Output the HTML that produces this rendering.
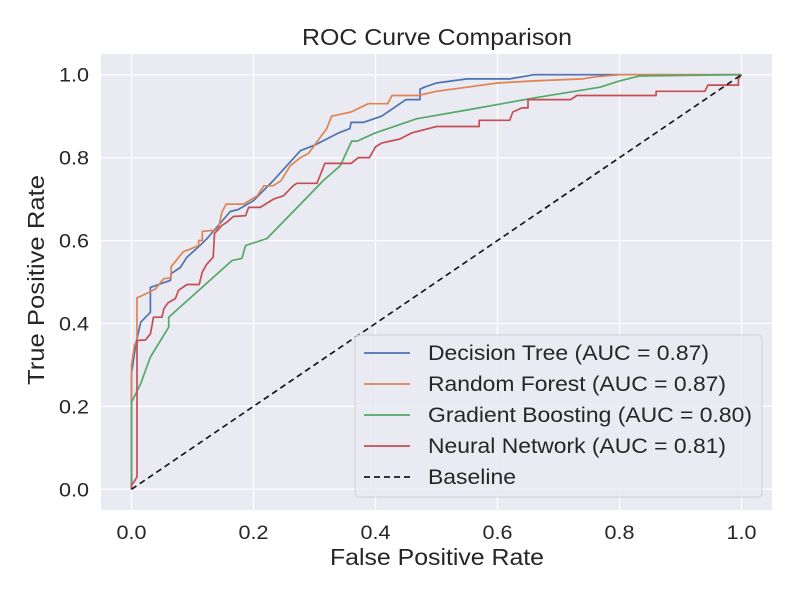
<!DOCTYPE html>
<html><head><meta charset="utf-8"><style>
body{margin:0;background:#fff;}
svg text{font-family:"Liberation Sans","DejaVu Sans",sans-serif;fill:#262626;}
</style></head><body>
<svg id="chart" width="800" height="600" xmlns="http://www.w3.org/2000/svg"></svg>
<script>
const xTicks=[0,0.2,0.4,0.6,0.8,1.0];
const yTicks=[0,0.2,0.4,0.6,0.8,1.0];
const tickLabels=["0.0","0.2","0.4","0.6","0.8","1.0"];
const seriesNames=["Decision Tree (AUC = 0.87)","Random Forest (AUC = 0.87)","Gradient Boosting (AUC = 0.80)","Neural Network (AUC = 0.81)"];
const seriesColors=["#4c72b0","#dd8452","#55a868","#c44e52"];
const dtFpr=[0,0,0.007,0.015,0.031,0.031,0.064,0.065,0.08,0.091,0.11,0.124,0.162,0.175,0.2,0.232,0.277,0.3,0.34,0.358,0.36,0.38,0.41,0.45,0.473,0.473,0.48,0.5,0.55,0.62,0.66,1];
const dtTpr=[0,0.279,0.35,0.403,0.427,0.487,0.504,0.52,0.535,0.56,0.585,0.605,0.67,0.675,0.696,0.744,0.817,0.83,0.86,0.87,0.885,0.885,0.9,0.94,0.94,0.965,0.97,0.98,0.99,0.99,1,1];
const rfFpr=[0,0,0.005,0.009,0.009,0.017,0.039,0.053,0.065,0.065,0.085,0.094,0.11,0.11,0.116,0.116,0.137,0.143,0.148,0.155,0.184,0.206,0.217,0.232,0.245,0.26,0.277,0.29,0.3,0.31,0.32,0.328,0.36,0.388,0.42,0.427,0.47,0.5,0.55,0.6,0.66,0.74,0.76,0.8,1];
const rfTpr=[0,0.3,0.35,0.35,0.462,0.467,0.483,0.508,0.51,0.537,0.573,0.578,0.588,0.6,0.6,0.622,0.625,0.632,0.668,0.688,0.688,0.708,0.732,0.732,0.744,0.78,0.8,0.81,0.83,0.85,0.87,0.9,0.91,0.93,0.93,0.95,0.95,0.96,0.97,0.98,0.985,0.99,0.995,1,1];
const gbFpr=[0,0,0.015,0.031,0.061,0.061,0.165,0.181,0.187,0.222,0.277,0.314,0.342,0.361,0.37,0.4,0.468,0.55,0.66,0.768,0.8,0.833,1];
const gbTpr=[0,0.21,0.255,0.319,0.391,0.415,0.552,0.557,0.588,0.605,0.688,0.744,0.78,0.84,0.84,0.86,0.894,0.915,0.944,0.97,0.985,0.997,1];
const nnFpr=[0,0,0.005,0.009,0.009,0.023,0.031,0.036,0.05,0.053,0.06,0.072,0.077,0.091,0.111,0.116,0.123,0.134,0.136,0.148,0.156,0.167,0.187,0.192,0.211,0.233,0.249,0.265,0.271,0.304,0.31,0.317,0.36,0.372,0.39,0.4,0.41,0.44,0.46,0.5,0.57,0.57,0.62,0.625,0.64,0.65,0.65,0.72,0.73,0.86,0.86,0.94,0.945,0.995,0.995,1];
const nnTpr=[0,0.01,0.02,0.03,0.359,0.36,0.375,0.415,0.415,0.435,0.45,0.46,0.48,0.494,0.494,0.524,0.542,0.56,0.617,0.636,0.644,0.658,0.66,0.68,0.68,0.70,0.708,0.732,0.738,0.738,0.76,0.786,0.786,0.80,0.80,0.826,0.835,0.845,0.86,0.875,0.875,0.89,0.89,0.91,0.92,0.92,0.94,0.94,0.95,0.95,0.96,0.96,0.975,0.975,0.99,1];
const baseFpr=[0,1], baseTpr=[0,1];

const svg=document.getElementById('chart');
const NS='http://www.w3.org/2000/svg';
const L=101,R=772,T=54,B=510;
const xs=v=>L+(v+0.05)/1.1*(R-L);
const ys=v=>B-(v+0.05)/1.1*(B-T);
function mk(tag,attrs,parent){const e=document.createElementNS(NS,tag);for(const k in attrs)e.setAttribute(k,attrs[k]);(parent||svg).appendChild(e);return e;}

const bg=mk('rect',{x:L,y:T,width:R-L,height:B-T,fill:'#eaeaf2'});



xTicks.forEach((t,i)=>{
  const g=mk('line',{x1:xs(t),x2:xs(t),y1:T,y2:B,stroke:'#fff','stroke-width':1.2});
  
  
  const tx=mk('text',{x:xs(t),y:B+29,'text-anchor':'middle','font-size':19,textLength:30,lengthAdjust:'spacingAndGlyphs'});
  tx.textContent=tickLabels[i];
  
  
});
yTicks.forEach((t,i)=>{
  const g=mk('line',{x1:L,x2:R,y1:ys(t),y2:ys(t),stroke:'#fff','stroke-width':1.2});
  
  
  const tx=mk('text',{x:L-42,y:ys(t)+7,'text-anchor':'start','font-size':19,textLength:30,lengthAdjust:'spacingAndGlyphs'});
  tx.textContent=tickLabels[i];
  
  
});

function line(fx,fy,color,dash,name){
  const p=fx.map((v,i)=>(i?'L':'M')+xs(v).toFixed(1)+','+ys(fy[i]).toFixed(1)).join('');
  const e=mk('path',{d:p,fill:'none',stroke:color,'stroke-width':1.7,'stroke-linejoin':'round'});
  if(dash)e.setAttribute('stroke-dasharray',dash);
  
  
}
line(dtFpr,dtTpr,seriesColors[0],null,'decision-tree-curve');
line(rfFpr,rfTpr,seriesColors[1],null,'random-forest-curve');
line(gbFpr,gbTpr,seriesColors[2],null,'gradient-boosting-curve');
line(nnFpr,nnTpr,seriesColors[3],null,'neural-network-curve');
line(baseFpr,baseTpr,'#1a1a1a','6,4','baseline-line');

const title=mk('text',{x:302,y:45,'font-size':23,textLength:270,lengthAdjust:'spacingAndGlyphs'});
title.textContent='ROC Curve Comparison';


const xl=mk('text',{x:330,y:565,'font-size':23,textLength:214,lengthAdjust:'spacingAndGlyphs'});
xl.textContent='False Positive Rate';


const yl=mk('text',{x:0,y:0,'font-size':23,textLength:210,lengthAdjust:'spacingAndGlyphs',transform:'translate(44,385) rotate(-90)'});
yl.textContent='True Positive Rate';



const leg=mk('rect',{x:355,y:335,width:407,height:162,rx:4,fill:'#eaeaf2','fill-opacity':0.8,stroke:'#d0d0d0'});


const legNames=seriesNames.concat(['Baseline']);
const legColors=seriesColors.concat(['#1a1a1a']);
const legWidths=[281,298,324,298,88];
legNames.forEach((n,i)=>{
  const y=353+i*31;
  const l=mk('line',{x1:364,x2:410,y1:y,y2:y,stroke:legColors[i],'stroke-width':1.7});
  if(i===4)l.setAttribute('stroke-dasharray','6,4');
  
  
  const t=mk('text',{x:428,y:y+7,'font-size':21,textLength:legWidths[i],lengthAdjust:'spacingAndGlyphs'});
  t.textContent=n;
  
  
});
</script>
</body></html>
